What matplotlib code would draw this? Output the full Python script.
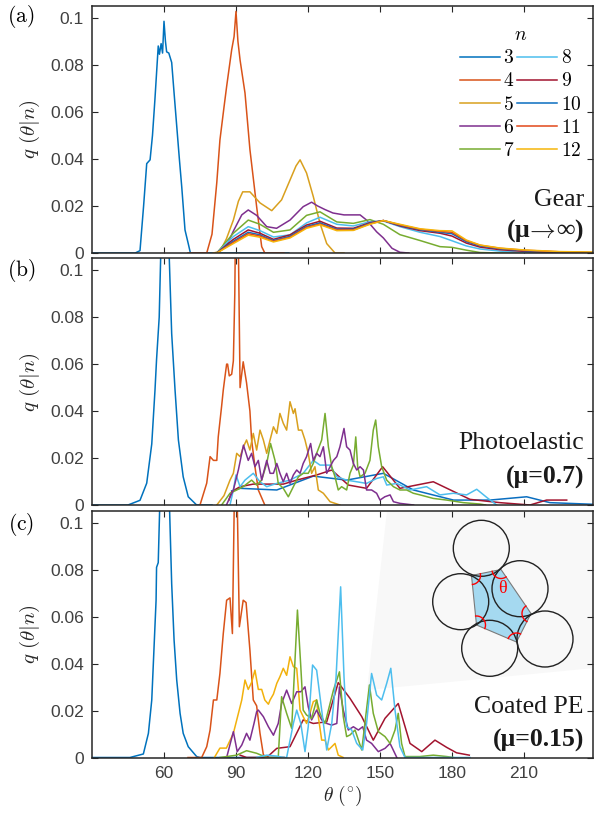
import numpy as np
import matplotlib
matplotlib.use("Agg")
import matplotlib.pyplot as plt
from matplotlib.patches import Polygon, Circle
from matplotlib.lines import Line2D

plt.rcParams['mathtext.fontset'] = 'cm'
plt.rcParams['font.family'] = ['Liberation Sans', 'DejaVu Sans']

# ---- data: (theta in degrees, q) ----
n_values = [3, 4, 5, 6, 7, 8, 9, 10, 11, 12]
colors = {3: '#0072BD', 4: '#D95319', 5: '#D9A01E', 6: '#7E2F8E', 7: '#77AC30',
          8: '#4DBEEE', 9: '#A2142F', 10: '#0A6EC0', 11: '#E2481A', 12: '#F5B50A'}

# (a) gear
gear_3 = [(30, 0), (48, 0), (50, .001), (51.5, .02), (52.8, .038), (54.2, .0396), (55.2, .05),
          (56.2, .065), (57.6, .088), (58.1, .0845), (58.8, .089), (59.4, .085), (60, .0985),
          (60.6, .09), (61.1, .0855), (62, .085), (63.2, .081), (64.2, .068), (65.3, .054),
          (66.4, .04), (67.4, .028), (68.75, .0098), (70.1, .004), (71, 0), (112, 0)]
gear_4 = [(70, 0), (77.8, 0), (80, .008), (82, .030), (83.3, .048), (85, .062), (86.1, .0708),
          (88.2, .0864), (89.2, .092), (90, .1027), (90.8, .09), (91.7, .082), (93.75, .068),
          (95.8, .044), (98.6, .0197), (100.7, .0027), (102, 0), (110, 0)]
gear_5 = [(80.5, 0), (83.3, .0006), (86, .006), (88.9, .014), (91, .022), (92.8, .026),
          (95.8, .026), (100, .0213), (104.9, .018), (109, .0226), (112.5, .031), (115, .037),
          (116.7, .0396), (119.4, .034), (122.2, .024), (125, .0126), (127.8, .004), (131.25, 0),
          (135, 0)]
gear_6 = [(82, 0), (86, .003), (89, .0095), (92.4, .0162), (95.1, .0183), (98.6, .016),
          (102.8, .0112), (106.9, .0105), (112.5, .014), (118, .0197), (121.5, .0216), (124, .02),
          (127, .0185), (130.4, .017), (135, .0162), (139, .0162), (141.7, .0162), (144.4, .014),
          (146.5, .0115), (148.6, .009), (151.4, .0064), (155, .002), (158.3, .0003), (162, 0)]
gear_theta_tail = [82, 88.9, 95.1, 100, 105.6, 112.5, 119.4, 125, 132, 138.9, 145.8, 151.4,
                   158.3, 166.7, 175, 180, 186, 191.7, 200, 210, 225, 239]
gear_7 = [0, .0084, .014, .0122, .0088, .0098, .016, .0175, .0132, .0126, .0142, .0122,
          .0078, .0053, .0027, .0024, .0012, .0002, 0, 0, 0, 0]
gear_8 = [0, .007, .0112, .0095, .0068, .0077, .0128, .0152, .0122, .0115, .0133, .0136,
          .0112, .0088, .007, .0052, .003, .0017, .0008, .0003, 0, 0]
gear_9 = [0, .0058, .0098, .0084, .0058, .0077, .0119, .0135, .0106, .0105, .0129, .0138,
          .0115, .0095, .0084, .0072, .0042, .0025, .0014, .0007, .0002, 0]
gear_10 = [0, .005, .0088, .0077, .0053, .0071, .0113, .0128, .0101, .0101, .0126, .0138,
           .0118, .0099, .0088, .0082, .0048, .003, .0018, .001, .0004, .0001]
gear_11 = [0, .0045, .0082, .0072, .005, .0067, .0109, .0123, .0098, .0098, .0124, .0138,
           .012, .0101, .0092, .0088, .0052, .0033, .002, .0012, .0005, .0002]
gear_12 = [0, .004, .0076, .0067, .0047, .0064, .0105, .012, .0095, .0096, .0122, .0138,
           .0122, .0103, .0095, .0094, .0055, .0034, .0021, .0013, .0006, .0004]

# (b) photoelastic
pe_3 = [(30, 0), (45, 0), (50, .002), (52.8, .0093), (54.9, .026), (56.25, .049), (56.9, .062),
        (58, .080), (58.6, .105), (59.5, .125), (60, .13), (60.5, .128), (61.5, .118),
        (62.2, .105), (63.2, .073), (64.6, .049), (66, .0277), (68, .012), (70.1, .0035),
        (73.6, 0), (80, 0)]
pe_4 = [(75, 0), (77.8, .0093), (79.2, .0206), (80.6, .019), (82, .019), (82.6, .029),
        (84, .042), (84.7, .049), (85.4, .0546), (86.1, .060), (86.5, .060), (87.2, .055),
        (88.2, .0557), (88.9, .0614), (89.5, .09), (90, .14), (90.5, .13), (91, .11),
        (91.7, .050), (93, .061), (94.4, .052), (95.8, .040), (96.5, .0277), (97.9, .0163),
        (99.3, .0064), (102, 0)]
pe_5 = [(82, 0), (85, .004), (87.5, .0106), (88.9, .0135), (90.3, .022), (91.7, .0206),
        (93.1, .0248), (94.4, .0277), (95.8, .0234), (97.2, .0305), (98.6, .0234), (100, .0319),
        (101.4, .0277), (102.8, .022), (104.2, .0277), (105.6, .0333), (107, .0305),
        (108.3, .039), (109.7, .0348), (111.1, .0319), (112.5, .044), (113.9, .039),
        (114.6, .041), (116, .0319), (117.4, .0319), (118.75, .0277), (120.1, .022),
        (121.5, .0135), (122.9, .0163), (124.3, .0064), (126.4, .005), (129.2, .0014), (133.3, 0)]
pe_6 = [(86, 0), (88.9, .0064), (91, .015), (93.1, .0255), (95.1, .019), (96.5, .022),
        (97.9, .0163), (99.3, .019), (100.7, .0106), (102.8, .019), (104.2, .0135),
        (105.6, .0135), (107, .0177), (108.3, .0135), (109.7, .0099), (111.1, .0135),
        (112.5, .0092), (113.9, .0128), (115.3, .0149), (116.7, .0135), (118, .0177),
        (119.4, .0206), (121.1, .0262), (122.2, .019), (123.6, .022), (125, .0206),
        (126.4, .0248), (127.8, .0135), (129.2, .0163), (130.6, .019), (132, .0206),
        (133.3, .0248), (135, .0326), (136.1, .0248), (137.5, .0234), (138.9, .0177),
        (140.3, .0149), (141.7, .0163), (143.1, .0149), (144.4, .0064), (146.5, .0064),
        (148.6, .005), (150, .0021), (152, .0035), (154.2, .0043), (155.6, .0014),
        (158.3, .0007), (164, 0)]
pe_7 = [(84, 0), (87.5, .005), (90.3, .0064), (93, .0078), (96.5, .0106), (98.6, .0085),
        (100.7, .0106), (102.8, .0177), (104.4, .0262), (106.25, .019), (107.6, .0092),
        (109.7, .0071), (111.8, .0035), (113.9, .0078), (116, .012), (118, .0135),
        (120.1, .0135), (122.2, .0177), (123.6, .022), (125.7, .0277), (127.1, .039),
        (128.5, .0248), (129.9, .0163), (131.25, .012), (132.6, .0064), (134, .0078),
        (136.1, .0064), (137.5, .0135), (138.9, .017), (139.9, .029), (140.7, .0163),
        (141.7, .012), (143.75, .0135), (145.8, .019), (147.2, .0319), (148.2, .0362),
        (149.3, .0248), (150.7, .0163), (152.8, .0106), (155.6, .0078), (158.3, .0064),
        (161.1, .0064), (163.9, .005), (166.7, .0043), (172.2, .0028), (177.8, .0021),
        (184.7, .001), (191.7, .0004), (194, 0)]
pe_8 = [(87.5, 0), (88.9, .0064), (90, .0128), (91.7, .0078), (93.75, .0106), (97.2, .0135),
        (100, .0099), (102.8, .0078), (107, .0092), (112.5, .0106), (118, .0135), (122.2, .019),
        (125, .017), (129.2, .017), (132, .012), (136.1, .0106), (140.3, .0099), (144.4, .0092),
        (148.6, .0113), (151.4, .012), (152.8, .0085), (157, .0092), (162.5, .0064),
        (169.4, .0078), (175, .0043), (180.6, .005), (186.1, .0043), (190.3, .0067),
        (194.4, .0033), (198.6, 0)]
pe_9 = [(87, .002), (88.2, .0057), (91.7, .0078), (97.2, .0089), (109.7, .0089), (115.3, .0106),
        (123.6, .0128), (129.9, .0149), (136.8, .0085), (144.4, .0071), (151.1, .0163),
        (158.3, .0071), (172.2, .0099), (187.5, .0024), (200, .001), (212.5, 0), (219.4, .0021),
        (227.8, .0021)]
pe_10 = [(88.2, .006), (91.7, .0071), (107, .0064), (122.2, .0123), (136.1, .0106),
         (151.4, .0135), (163.9, .0064), (180.6, .0021), (195.8, .0021), (211.1, .0035),
         (220.8, .001), (238.9, .0003)]

# (c) coated photoelastic
cpe_3 = [(30, 0), (45.8, 0), (51.4, .0015), (53.5, .0103), (54.9, .0245), (55.8, .0457),
         (56.7, .067), (56.9, .081), (57.6, .083), (58.3, .11), (60, .13), (62.2, .11),
         (63.2, .074), (64.2, .050), (65.3, .033), (66.7, .0188), (68, .0103), (70.1, .0046),
         (73.6, .0004), (75, 0), (110, 0)]
cpe_4 = [(70, 0), (75.7, 0), (77.8, .0046), (79.2, .0117), (80.6, .0245), (82, .0245),
         (83.3, .0358), (84.7, .0528), (86.1, .067), (87.5, .068), (88.5, .0528), (89.3, .11),
         (89.9, .14), (90.5, .11), (91.4, .0557), (93, .067), (94.2, .066), (95.8, .0457),
         (97.2, .0245), (98.6, .022), (100, .0103), (101.4, .0012), (102.8, 0), (110, 0)]
cpe_5 = [(81, 0), (83.3, .004), (86, .004), (88.9, .0103), (91, .0188), (92.4, .0245),
         (93.75, .033), (95.1, .029), (96.5, .032), (97.9, .0372), (99.3, .029), (100.7, .029),
         (102, .0245), (103.5, .0227), (104.2, .0245), (105.6, .027), (107, .0316),
         (108.3, .0344), (109.7, .038), (111.1, .035), (112.5, .0429), (113.9, .0387),
         (115.3, .038), (116.7, .0202), (118, .0174), (119.4, .0145), (120.8, .0188),
         (122.2, .0238), (123.6, .0245), (124.3, .0174), (125.7, .0074), (127.1, .0074),
         (128.5, .0032), (129.9, .0046), (131.25, .006), (132.6, .001), (134.7, 0)]
cpe_6 = [(86.1, 0), (88.9, .011), (90.5, .0025), (92.4, .0053), (94.4, .0103), (95.8, .0074),
         (97.5, .0145), (98.6, .0195), (99.3, .0202), (101.4, .0174), (103.5, .0131),
         (105.6, .0095), (107.6, .0145), (109, .023), (111.1, .0287), (113.2, .023),
         (115.3, .028), (117, .028), (118.75, .0301), (120.1, .0216), (121.5, .016),
         (123.6, .0202), (125.7, .016), (127.8, .0145), (129.9, .0138), (132, .0145),
         (133.1, .0301), (134.7, .0202), (136.8, .0117), (138.9, .0131), (141, .0117),
         (142.8, .0131), (144.4, .0074), (146.5, .006), (149.3, .0025), (152.1, .0039),
         (154.2, .006), (157, 0)]
cpe_7 = [(83.3, 0), (90.3, .001), (94.4, .0029), (98.6, .0018), (102.8, 0), (107.6, 0),
         (109, .0259), (111.1, .0188), (113.2, .0124), (115.6, .0628), (117, .0387),
         (118, .0202), (119.4, .0181), (121.5, .0167), (123.6, .0245), (125, .0188),
         (127.1, .0145), (128.5, .0202), (130.6, .0287), (133.1, .0365), (134.7, .0174),
         (136.1, .0089), (137.5, .0096), (139.6, .0117), (142.4, .0032), (144.2, .0188),
         (145.6, .0309), (147.2, .0188), (149.3, .011), (152.1, .0089), (154.2, .006),
         (156.25, .0117), (157.6, .0188), (159, .006), (160.4, .0004), (166.7, .0004),
         (172.2, .001), (177.8, .0004), (180.6, 0)]
cpe_8 = [(98.6, 0), (102.8, .001), (107, .0006), (109.7, 0), (111.1, 0), (113.9, .0145),
         (115.3, .0202), (117, .0145), (118.75, .0025), (120.1, .0131), (121.9, .0394),
         (123.6, .0372), (125.7, .0202), (127.8, .0032), (129.9, .0145), (131.7, .0344),
         (133.6, .0727), (135, .0344), (136.1, .0131), (138.2, .0117), (140.3, .006),
         (142.8, .0032), (144.4, .0145), (146.5, .0358), (148.6, .0266), (150.7, .0245),
         (152.8, .0316), (154.5, .038), (156.25, .0202), (158.3, .0046), (160.4, 0), (187.5, 0)]
cpe_9 = [(91.7, .001), (94.4, 0), (102.8, 0), (107, .0039), (112.5, .0046), (118, .016),
         (122.2, .0145), (127.8, .0152), (132.6, .0319), (137.5, .0252), (142.4, .0174),
         (147.2, .0074), (152.1, .0167), (157.6, .023), (162.5, .006), (167.4, .0025),
         (172.9, .0074), (177.8, .0043), (181.9, .002), (187.2, .001)]

panel_texts = [('Gear', r'(μ$\!\rightarrow\!$∞)'), ('Photoelastic', '(μ=0.7)'),
               ('Coated PE', '(μ=0.15)')]
panel_tags = ['(a)', '(b)', '(c)']
x_ticks = [60, 90, 120, 150, 180, 210]
y_ticks = [0, 0.02, 0.04, 0.06, 0.08, 0.1]
y_tick_labels = ['0', '0.02', '0.04', '0.06', '0.08', '0.1']

# ---- figure ----
W, H = 594, 813
fig = plt.figure(figsize=(W / 100, H / 100), dpi=100)

def px_axes(top, bottom):
    return fig.add_axes([92 / W, 1 - bottom / H, 501 / W, (bottom - top) / H])

ax_a = px_axes(6, 253)
ax_b = px_axes(258.5, 505)
ax_c = px_axes(511, 757.5)
axes = [ax_a, ax_b, ax_c]

# overlay in pixel coordinates for labels and the inset drawing
over = fig.add_axes([0, 0, 1, 1], zorder=5)
over.set_xlim(0, W)
over.set_ylim(H, 0)
over.axis('off')
over.patch.set_alpha(0)

lw = 1.1

def draw(ax, pts, n, color=None):
    t, q = zip(*pts)
    ax.plot(t, q, color=color or colors[n], lw=lw)

# (a)
for n, pts in [(3, gear_3), (4, gear_4), (5, gear_5), (6, gear_6)]:
    draw(ax_a, pts, n)
for n, q in [(7, gear_7), (8, gear_8), (9, gear_9), (10, gear_10), (11, gear_11), (12, gear_12)]:
    ax_a.plot(gear_theta_tail, q, color=colors[n], lw=lw)

# (b)
for n, pts in [(3, pe_3), (4, pe_4), (10, pe_10), (9, pe_9), (8, pe_8), (5, pe_5), (7, pe_7), (6, pe_6)]:
    draw(ax_b, pts, n)

# (c)
ax_c.add_patch(Polygon([(387, 511), (594, 511), (594, 668), (367, 690)], closed=True,
                       facecolor='#F8F8F8', edgecolor='none', zorder=0,
                       transform=over.transData))
for n, pts in [(3, cpe_3), (4, cpe_4), (9, cpe_9), (5, cpe_5), (6, cpe_6), (7, cpe_7), (8, cpe_8)]:
    draw(ax_c, pts, n, color='#F2B10C' if n == 5 else None)

# axes styling (MATLAB-like)
for ax in axes:
    ax.set_xlim(30, 238.75)
    ax.set_ylim(0, 0.105)
    ax.set_xticks(x_ticks)
    ax.set_yticks(y_ticks)
    ax.set_yticklabels(y_tick_labels)
    ax.tick_params(direction='in', top=True, right=True, length=4, width=0.8,
                   color='#262626', labelcolor='#404040', labelsize=12.5, pad=6)
    for s in ax.spines.values():
        s.set_linewidth(1.1)
        s.set_color('#262626')
    ax.set_ylabel(r'$q\ (\theta|n)$', fontsize=15, color='#262626')
    ax.yaxis.set_label_coords(-0.10, 0.5)
for ax in [ax_a, ax_b]:
    ax.tick_params(labelbottom=False)
ax_c.set_xlabel(r'$\theta\ (^{\circ})$', fontsize=14, color='#262626', labelpad=2)

# legend
handles = [Line2D([], [], color=colors[n], lw=lw) for n in n_values]
labels = ['$%d$' % n for n in n_values]
leg = ax_a.legend(handles, labels, ncol=2, title='$n$', frameon=False, loc='upper right',
                  bbox_to_anchor=(0.992, 0.945), fontsize=14, title_fontsize=14,
                  handlelength=2.05, handletextpad=0.2, columnspacing=0.1,
                  labelspacing=0.26, borderaxespad=0)

# panel tags and material labels
tag_y = [16, 270, 524]
for tag, y in zip(panel_tags, tag_y):
    over.text(21, y, r'$\mathrm{%s}$' % tag, fontsize=15.5, ha='center', va='center')
serif = ['Liberation Serif', 'Liberation Sans', 'DejaVu Serif']
text_y = [(200, 231), (443, 477), (707, 740)]
for (t1, t2), (y1, y2) in zip(panel_texts, text_y):
    over.text(584, y1, t1, fontsize=18.5, family=serif, ha='right', va='center', color='#1a1a1a')
    over.text(584, y2, t2, fontsize=18.5, family=serif, fontweight='bold',
              ha='right', va='center', color='#1a1a1a')

# inset sketch: five discs around a polygon with contact angles
disc_centres = [(481.3, 548.3), (460.7, 601.7), (489.7, 648.3), (545, 639), (520, 588.7)]
poly = [(471.5, 575.5), (476.5, 625), (516.5, 642), (531, 613.5), (501, 569.5)]
over.add_patch(Polygon(poly, closed=True, facecolor='#A5D9F0', edgecolor='#7a7a7a', lw=0.8))
for c in disc_centres:
    over.add_patch(Circle(c, 28, facecolor='none', edgecolor='#222222', lw=1.0))
for i, v in enumerate(poly):
    p = np.array(poly[i - 1]) - v
    q = np.array(poly[(i + 1) % len(poly)]) - v
    a1, a2 = np.arctan2(p[1], p[0]), np.arctan2(q[1], q[0])
    d = (a2 - a1 + np.pi) % (2 * np.pi) - np.pi
    ang = a1 + np.linspace(0, d, 20)
    over.plot(v[0] + 9 * np.cos(ang), v[1] + 9 * np.sin(ang), color='red', lw=1.0)
over.text(502, 588, 'θ', color='red', fontsize=13, ha='center', va='center',
          family=['Liberation Serif', 'DejaVu Serif'])

fig.savefig('out.png', dpi=100)
